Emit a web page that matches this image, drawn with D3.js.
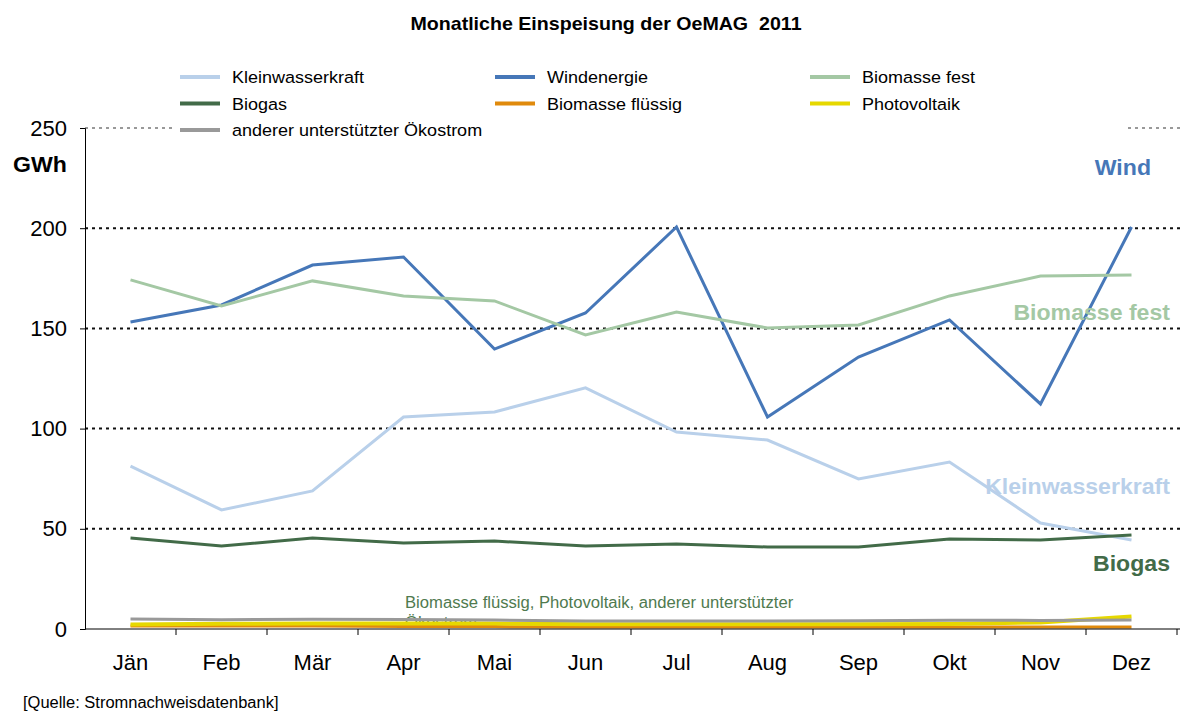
<!DOCTYPE html>
<html>
<head>
<meta charset="utf-8">
<script src="https://cdn.jsdelivr.net/npm/d3@7"></script>
<style>
  body { margin: 0; background: #fff; }
  svg { font-family: "Liberation Sans", Arial, sans-serif; }
</style>
</head>
<body>
<div id="chart"></div>
<script>
// Data (GWh)
const months = ["Jän", "Feb", "Mär", "Apr", "Mai", "Jun", "Jul", "Aug", "Sep", "Okt", "Nov", "Dez"];
const kleinwasserkraft = [81.3, 59.4, 68.9, 105.8, 108.3, 120.3, 98.3, 94.3, 74.9, 83.3, 52.9, 44.4];
const windenergie = [153.2, 161.7, 181.6, 185.6, 139.7, 157.7, 200.6, 105.8, 135.7, 154.2, 112.3, 200.6];
const biomasseFest = [174.2, 161.2, 173.7, 166.2, 163.7, 146.7, 158.2, 150.2, 151.7, 166.2, 176.1, 176.6];
const biogas = [45.4, 41.4, 45.4, 42.9, 43.9, 41.4, 42.4, 40.9, 40.9, 44.9, 44.4, 46.9];
const biomasseFluessig = [1.5, 1.5, 1.5, 1.2, 1.2, 1.0, 1.0, 1.0, 1.0, 1.0, 1.0, 1.0];
const photovoltaik = [2.3, 2.6, 2.8, 2.8, 2.7, 2.4, 2.4, 2.4, 2.4, 2.5, 3.3, 6.2];
const andererOekostrom = [5.0, 4.6, 4.9, 4.8, 4.5, 4.0, 4.0, 4.0, 4.1, 4.4, 4.3, 4.5];
const yTicks = [0, 50, 100, 150, 200, 250];

const series = [
    { name: "Kleinwasserkraft", values: kleinwasserkraft, color: "#b9d0ea", w: 3 },
    { name: "Windenergie", values: windenergie, color: "#4677b8", w: 3 },
    { name: "Biomasse fest", values: biomasseFest, color: "#a4c8a4", w: 3 },
    { name: "Biogas", values: biogas, color: "#426b48", w: 3 },
    { name: "Biomasse flüssig", values: biomasseFluessig, color: "#e08a0c", w: 3 },
    { name: "Photovoltaik", values: photovoltaik, color: "#e6d800", w: 4 },
    { name: "anderer unterstützter Ökostrom", values: andererOekostrom, color: "#999999", w: 3 }
];

const width = 1181, height = 713;
const svg = d3.select("#chart").append("svg")
    .attr("width", width)
    .attr("height", height);

const x = d3.scaleBand().domain(months).range([85, 1177]);
const y = d3.scaleLinear().domain([0, 250]).range([629, 128]);

// text placed at (tx,ty) and stretched a bit horizontally, like the original
function stretchedText(parent, tx, ty, sx) {
    return parent.append("text")
        .attr("transform", `translate(${tx},${ty}) scale(${sx},1)`);
}

// Title
stretchedText(svg, 606, 30, 1.09)
    .attr("text-anchor", "middle")
    .attr("font-size", 18).attr("font-weight", "bold")
    .attr("xml:space", "preserve")
    .text("Monatliche Einspeisung der OeMAG  2011");

// Gridlines
svg.append("g")
    .selectAll("line")
    .data(yTicks.filter(d => d > 0))
    .enter().append("line")
    .attr("x1", 85).attr("x2", 1180)
    .attr("y1", d => y(d)).attr("y2", d => y(d))
    .attr("stroke", d => d === 250 ? "#999" : "#111")
    .attr("stroke-width", 2)
    .attr("stroke-dasharray", "3,4");

// Y axis
const yAxis = svg.append("g")
    .attr("transform", "translate(85,0)")
    .call(d3.axisLeft(y).tickValues(yTicks).tickSize(5).tickPadding(13));
yAxis.select(".domain").attr("stroke", "#000");
yAxis.selectAll("text").attr("font-size", 22).attr("fill", "#000")
    .attr("font-family", "Liberation Sans, Arial, sans-serif");

stretchedText(svg, 13, 172, 1.05)
    .attr("font-size", 22).attr("font-weight", "bold")
    .text("GWh");

// Legend background (covers the 250 gridline)
svg.append("rect")
    .attr("x", 176).attr("y", 60).attr("width", 950).attr("height", 85)
    .attr("fill", "#fff");

// Annotation for small series
const note = stretchedText(svg, 405, 608, 1.04)
    .attr("font-size", 16).attr("fill", "#4f7a4f");
note.append("tspan").attr("x", 0).text("Biomasse flüssig, Photovoltaik, anderer unterstützter");
note.append("tspan").attr("x", 0).attr("dy", 20).text("Ökostrom");

// Lines
const line = d3.line()
    .x((d, i) => x(months[i]) + x.bandwidth() / 2)
    .y(d => y(d));

svg.append("g")
    .selectAll("path")
    .data(series)
    .enter().append("path")
    .attr("d", d => line(d.values))
    .attr("fill", "none")
    .attr("stroke", d => d.color)
    .attr("stroke-width", d => d.w);

// X axis
const xAxis = svg.append("g")
    .attr("transform", "translate(0,629)")
    .call(d3.axisBottom(x).tickSize(0).tickPadding(25));
xAxis.select(".domain").remove();
xAxis.selectAll("text").attr("font-size", 22).attr("fill", "#000")
    .attr("font-family", "Liberation Sans, Arial, sans-serif");
svg.append("line")
    .attr("x1", 85).attr("x2", 1180).attr("y1", 629).attr("y2", 629)
    .attr("stroke", "#000");
svg.append("g")
    .selectAll("line")
    .data(months)
    .enter().append("line")
    .attr("x1", d => x(d) + x.bandwidth())
    .attr("x2", d => x(d) + x.bandwidth())
    .attr("y1", 629).attr("y2", 635)
    .attr("stroke", "#000");

// Legend
const legend = svg.append("g")
    .selectAll("g")
    .data(series)
    .enter().append("g")
    .attr("transform", (d, i) => `translate(${180 + (i % 3) * 315},${77 + Math.floor(i / 3) * 26.5})`);
legend.append("line")
    .attr("x1", 0).attr("x2", 40)
    .attr("stroke", d => d.color)
    .attr("stroke-width", 4);
legend.append("text")
    .attr("transform", "translate(52,6) scale(1.06,1)")
    .attr("font-size", 17)
    .text(d => d.name);

// Direct labels on the right
const labels = [
    { text: "Wind", x: 1151, y: 175, color: "#4677b8" },
    { text: "Biomasse fest", x: 1170, y: 320, color: "#a4c8a4" },
    { text: "Kleinwasserkraft", x: 1170, y: 494, color: "#b9d0ea" },
    { text: "Biogas", x: 1170, y: 571, color: "#426b48" }
];
svg.append("g")
    .selectAll("text")
    .data(labels)
    .enter().append("text")
    .attr("transform", d => `translate(${d.x},${d.y}) scale(1.05,1)`)
    .attr("text-anchor", "end")
    .attr("font-size", 22).attr("font-weight", "bold")
    .attr("fill", d => d.color)
    .text(d => d.text);

// Source
stretchedText(svg, 23, 708, 1.03)
    .attr("font-size", 16)
    .text("[Quelle: Stromnachweisdatenbank]");
</script>
</body>
</html>
